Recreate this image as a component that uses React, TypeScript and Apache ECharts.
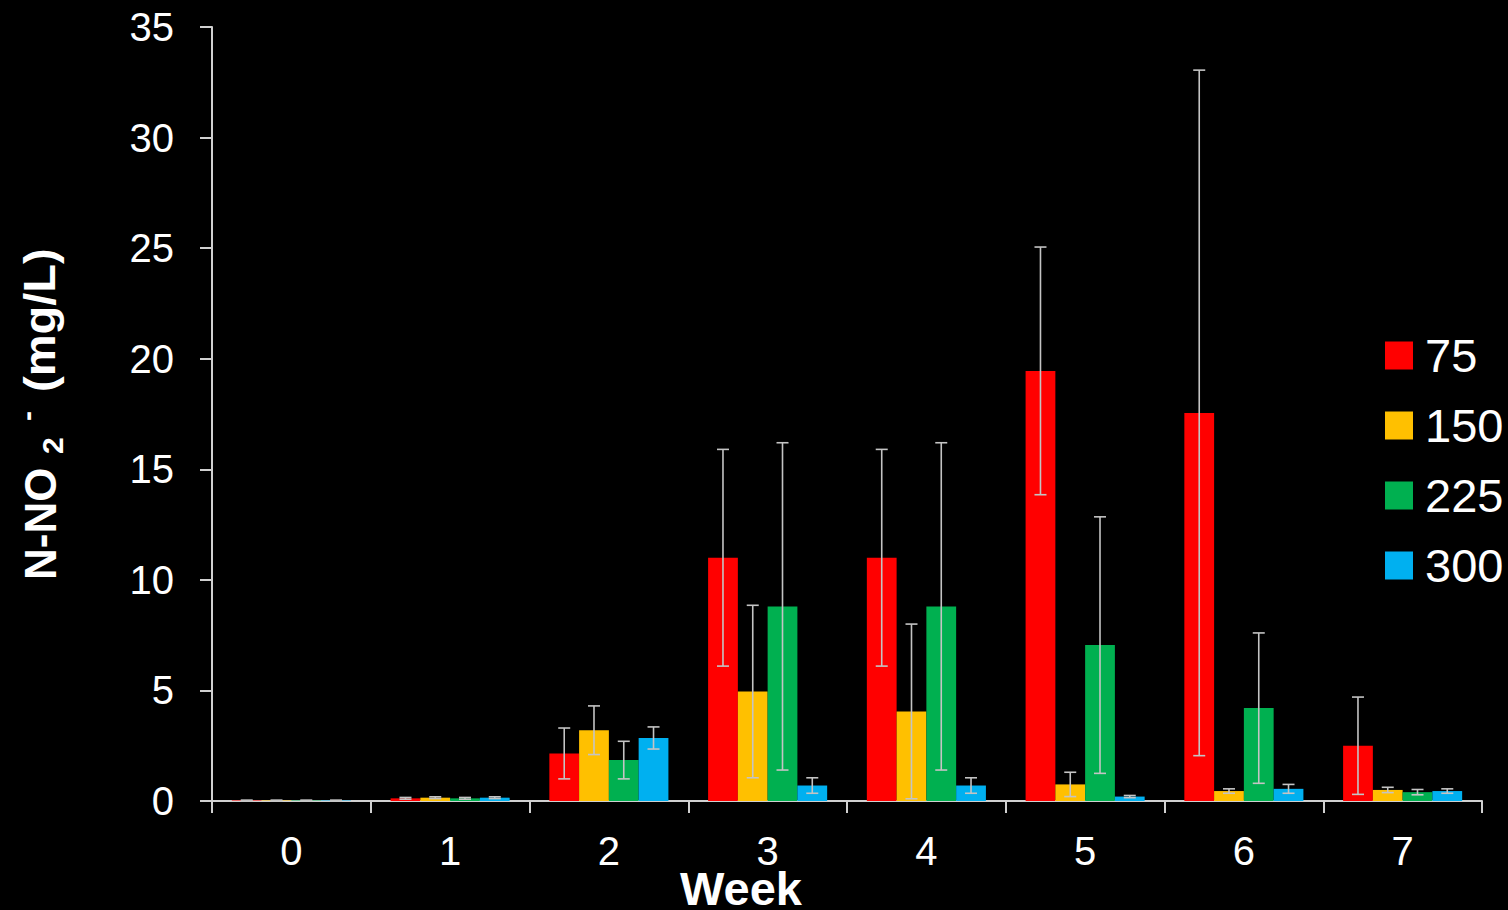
import React, { useEffect, useRef } from "react";
import * as echarts from "echarts";

// Weekly N-NO2- concentration (mg/L) by treatment level, mean ± error
const weeks = ["0", "1", "2", "3", "4", "5", "6", "7"];
const seriesNames = ["75", "150", "225", "300"];
const colors = ["#ff0000", "#ffc000", "#00b050", "#00b0f0"];

const mean75 = [0.02, 0.12, 2.15, 11.0, 11.0, 19.45, 17.55, 2.5];
const err75 = [0.02, 0.04, 1.15, 4.9, 4.9, 5.6, 15.5, 2.2];
const mean150 = [0.02, 0.15, 3.2, 4.95, 4.05, 0.75, 0.45, 0.5];
const err150 = [0.02, 0.04, 1.1, 3.9, 3.95, 0.55, 0.1, 0.12];
const mean225 = [0.02, 0.12, 1.85, 8.8, 8.8, 7.05, 4.2, 0.4];
const err225 = [0.02, 0.04, 0.85, 7.4, 7.4, 5.8, 3.4, 0.12];
const mean300 = [0.02, 0.15, 2.85, 0.7, 0.7, 0.2, 0.55, 0.45];
const err300 = [0.02, 0.04, 0.5, 0.35, 0.35, 0.05, 0.2, 0.1];

const yTicks = { min: 0, max: 35, interval: 5 };

const means = [mean75, mean150, mean225, mean300];
const errs = [err75, err150, err225, err300];

const FONT = "'Liberation Sans', Arial, sans-serif";
const AXIS_COLOR = "#d0d0d0";
const ERR_COLOR = "#c4c4c4";
const CATEGORY_GAP = 0.25;

export default function App() {
  const ref = useRef<HTMLDivElement>(null);

  useEffect(() => {
    if (!ref.current) return;
    const chart = echarts.init(ref.current, null, { renderer: "svg" });

    const barSeries = seriesNames.map((name, i) => ({
      name,
      type: "bar",
      data: means[i],
      barGap: "0%",
      barCategoryGap: `${CATEGORY_GAP * 100}%`,
      itemStyle: { color: colors[i] },
      z: 2,
    }));

    // [category index, series index, low, high]
    const errData: number[][] = [];
    means.forEach((m, si) => {
      m.forEach((v, ci) => {
        errData.push([ci, si, Math.max(0, v - errs[si][ci]), v + errs[si][ci]]);
      });
    });

    const errorSeries = {
      type: "custom",
      name: "error",
      data: errData,
      encode: { x: 0, y: [2, 3] },
      z: 5,
      silent: true,
      renderItem: (params: any, api: any) => {
        const ci = api.value(0);
        const si = api.value(1);
        const lowPt = api.coord([ci, api.value(2)]);
        const highPt = api.coord([ci, api.value(3)]);
        const band = api.size([1, 0])[0];
        const barW = (band * (1 - CATEGORY_GAP)) / seriesNames.length;
        const x = lowPt[0] + (si - (seriesNames.length - 1) / 2) * barW;
        const cap = 6;
        const style = { stroke: ERR_COLOR, lineWidth: 1.6 };
        return {
          type: "group",
          children: [
            { type: "line", shape: { x1: x, y1: lowPt[1], x2: x, y2: highPt[1] }, style },
            { type: "line", shape: { x1: x - cap, y1: highPt[1], x2: x + cap, y2: highPt[1] }, style },
            { type: "line", shape: { x1: x - cap, y1: lowPt[1], x2: x + cap, y2: lowPt[1] }, style },
          ],
        };
      },
    };

    const titleStyle = { fill: "#ffffff", fontFamily: FONT, fontWeight: "bold" };

    chart.setOption({
      animation: false,
      backgroundColor: "#000000",
      textStyle: { fontFamily: FONT },
      grid: { left: 212, right: 26, top: 27, bottom: 109, containLabel: false },
      legend: {
        data: seriesNames,
        orient: "vertical",
        left: 1385,
        top: 332,
        padding: 0,
        itemWidth: 28,
        itemHeight: 28,
        itemGap: 23,
        icon: "rect",
        textStyle: {
          color: "#ffffff",
          fontSize: 47,
          lineHeight: 46,
          fontFamily: FONT,
          padding: [0, 0, 0, 7],
        },
      },
      xAxis: {
        type: "category",
        data: weeks,
        boundaryGap: true,
        axisLine: { lineStyle: { color: AXIS_COLOR, width: 2 } },
        axisTick: { show: true, length: 12, inside: false, lineStyle: { color: AXIS_COLOR, width: 2 } },
        axisLabel: { color: "#ffffff", fontSize: 40, margin: 30, fontFamily: FONT },
        splitLine: { show: false },
      },
      yAxis: {
        type: "value",
        min: yTicks.min,
        max: yTicks.max,
        interval: yTicks.interval,
        axisLine: { show: true, lineStyle: { color: AXIS_COLOR, width: 2 } },
        axisTick: { show: true, length: 12, lineStyle: { color: AXIS_COLOR, width: 2 } },
        axisLabel: { color: "#ffffff", fontSize: 40, margin: 38, fontFamily: FONT },
        splitLine: { show: false },
      },
      graphic: [
        {
          type: "text",
          x: 741,
          y: 888,
          style: {
            ...titleStyle,
            text: "Week",
            fontSize: 47,
            align: "center",
            verticalAlign: "middle",
          },
        },
        {
          type: "group",
          x: 40,
          y: 414,
          rotation: Math.PI / 2,
          children: [
            {
              type: "text",
              x: -166,
              y: 0,
              style: { ...titleStyle, text: "N-NO", fontSize: 44, align: "left", verticalAlign: "middle" },
            },
            {
              type: "text",
              x: -40,
              y: 12,
              style: { ...titleStyle, text: "2", fontSize: 30, align: "left", verticalAlign: "middle" },
            },
            {
              type: "text",
              x: -7,
              y: -14,
              style: { ...titleStyle, text: "-", fontSize: 30, align: "left", verticalAlign: "middle" },
            },
            {
              type: "text",
              x: 22,
              y: 0,
              scaleX: 1.07,
              style: { ...titleStyle, text: "(mg/L)", fontSize: 44, align: "left", verticalAlign: "middle" },
            },
          ],
        },
      ],
      series: [...barSeries, errorSeries],
    });

    return () => chart.dispose();
  }, []);

  return (
    <div
      ref={ref}
      style={{ position: "fixed", left: 0, top: 0, width: 1508, height: 910, background: "#000" }}
    />
  );
}
